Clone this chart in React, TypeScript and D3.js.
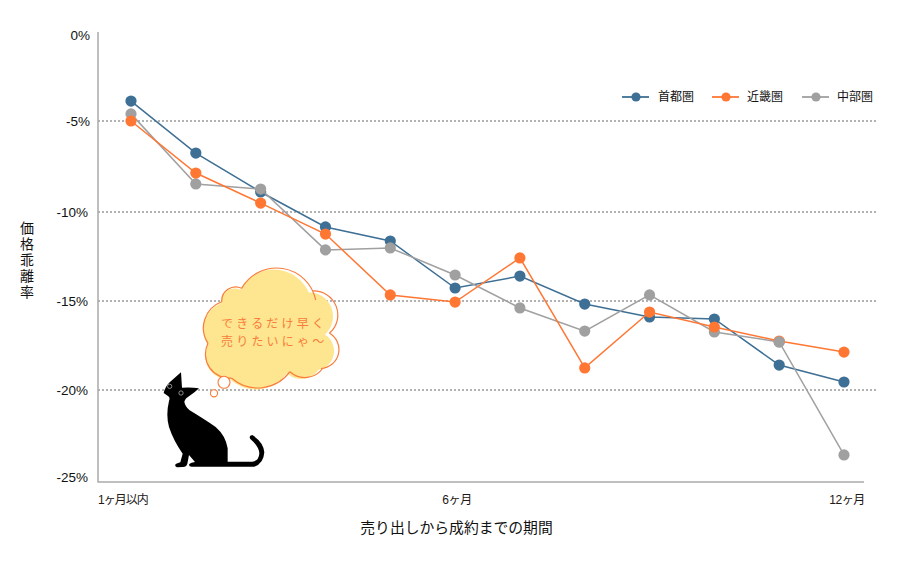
import React from "react";
import * as d3 from "d3";

const months = [1, 2, 3, 4, 5, 6, 7, 8, 9, 10, 11, 12];
const shutoken = [-3.88, -6.76, -8.9, -10.84, -11.63, -14.27, -13.6, -15.17, -15.9, -16.01, -18.6, -19.55];
const kinki = [-5, -7.86, -9.51, -11.24, -14.66, -15.06, -12.58, -18.76, -15.62, -16.46, -17.25, -17.87];
const chubu = [-4.6, -8.46, -8.74, -12.13, -12.02, -13.54, -15.39, -16.69, -14.66, -16.74, -17.3, -23.53];

const yTicks = [0, -5, -10, -15, -20, -25];
const gridTicks = [-5, -10, -15, -20];
const xTicks = [1, 6, 12];
const xLabels = ["1ヶ月以内", "6ヶ月", "12ヶ月"];
const yTitle = "価格乖離率";
const bubbleLines = ["できるだけ早く", "売りたいにゃ〜"];

// draw order matters: orange sits on top of the others
const series = [
  { name: "首都圏", values: shutoken, color: "#3e6f94", legendX: 636, textX: 658 },
  { name: "中部圏", values: chubu, color: "#a0a0a0", legendX: 816, textX: 837 },
  { name: "近畿圏", values: kinki, color: "#ff7733", legendX: 726, textX: 747 },
];

const FONT = "'Liberation Sans', 'Noto Sans CJK JP', sans-serif";
const JP = "'Noto Sans CJK JP', sans-serif";

const x = d3.scaleLinear().domain([1, 12]).range([131, 844]);
// the gridlines in the picture are not perfectly even
const y = d3.scaleLinear().domain(yTicks).range([32, 121, 212, 301, 390, 482]);

const line = d3
  .line<number>()
  .x((_, i) => x(months[i]))
  .y((d) => y(d));

// cloud lobes: start x, start y, radius, end x, end y
const lobes = [
  [241.7, 288.3, 40, 315.7, 300],
  [312.5, 291, 24, 329.3, 333.3],
  [329.3, 333, 19, 321, 368.5],
  [323, 368, 22, 290, 371.7],
  [290, 371.7, 40, 231.7, 378.3],
  [231.7, 378, 24, 208, 343.3],
  [208, 343.3, 28, 221.7, 301.7],
  [221.7, 301.7, 14, 241.7, 288.3],
];
const lobeArc = (l: number[]) => `A${l[2]} ${l[2]} 0 0 1 ${l[3]} ${l[4]}`;
const cloudFill =
  lobes.map((l, i) => `${i === 0 ? "M" : "L"}${l[0]} ${l[1]}${lobeArc(l)}`).join("") + "Z";
const cloudStroke = lobes.map((l) => `M${l[0]} ${l[1]}${lobeArc(l)}`).join("");

const catPath =
  "M78 22 L81 68 Q108 66 132 70 Q118 84 104 92 Q90 100 88 110 Q90 124 104 136 " +
  "Q150 164 182 186 Q212 212 218 250 L218 290 L292 290 Q312 288 313 265 Q312 244 286 222 " +
  "Q280 212 292 210 Q326 232 328 262 Q326 296 298 305 L110 305 Q100 304 103 297 Q108 292 120 291 " +
  "L102 270 L97 296 Q94 306 84 306 L66 307 Q58 304 62 297 Q70 294 76 292 L83 266 " +
  "Q56 228 42 186 Q32 150 42 108 Q46 98 40 94 L26 84 Q30 66 44 52 Z";

export default function App() {
  return (
    <svg
      width={900}
      height={570}
      style={{ position: "absolute", left: 0, top: 0, background: "#fff" }}
      fontFamily={FONT}
    >
      {gridTicks.map((t) => (
        <line key={t} x1={98} x2={878} y1={y(t)} y2={y(t)} stroke="#999" strokeWidth={1.3} strokeDasharray="2 2" />
      ))}
      <path d="M98 32V482H864" fill="none" stroke="#aaa" strokeWidth={1.5} />

      {yTicks.map((t) => (
        <text
          key={t}
          x={t <= -10 ? 88 : 90}
          y={y(t) + (t === 0 ? 3 : t === -25 ? -5 : 0)}
          dy="0.35em"
          textAnchor="end"
          fontSize={13.5}
          fill="#111"
        >
          {t}%
        </text>
      ))}
      {xTicks.map((t, i) => (
        <text
          key={t}
          x={i === 0 ? 98 : x(t) + (i === 2 ? 3 : 2)}
          y={500}
          dy="0.35em"
          textAnchor={i === 0 ? "start" : "middle"}
          fontSize={12}
          letterSpacing={i === 0 ? -1 : -0.4}
          fill="#231815"
        >
          {xLabels[i]}
        </text>
      ))}
      <text
        x={27}
        y={221}
        fontSize={14}
        letterSpacing={2}
        fontFamily={JP}
        fill="#111"
        style={{ writingMode: "vertical-rl" }}
      >
        {yTitle}
      </text>
      <text x={456.5} y={528} dy="0.35em" textAnchor="middle" fontSize={14.8} fontFamily={JP} fill="#111">
        売り出しから成約までの期間
      </text>

      {series.map((s) => (
        <g key={s.name}>
          <path d={line(s.values) ?? ""} fill="none" stroke={s.color} strokeWidth={1.5} />
          {s.values.map((v, i) => (
            <circle key={i} cx={x(months[i])} cy={y(v)} r={5.6} fill={s.color} />
          ))}
          <line x1={s.legendX - 14} x2={s.legendX + 13} y1={97} y2={97} stroke={s.color} strokeWidth={1.8} />
          <circle cx={s.legendX} cy={97} r={4.6} fill={s.color} />
          <text x={s.textX} y={97} dy="0.35em" fontSize={12} fontFamily={JP} fill="#111">
            {s.name}
          </text>
        </g>
      ))}
      {/* at 11 months the grey dot is the one in front */}
      <circle cx={x(months[10])} cy={y(chubu[10])} r={5.6} fill="#a0a0a0" />

      <path d={cloudFill} fill="#fde68f" transform="translate(7 1.5) scale(0.965 1)" />
      <path d={cloudStroke} fill="none" stroke="#f97c3c" strokeWidth={1.2} />
      {bubbleLines.map((t, i) => (
        <text
          key={t}
          x={221}
          y={324 + i * 18}
          dy="0.35em"
          fontSize={12}
          letterSpacing={3.2}
          fontFamily={JP}
          fill="#f97c3c"
        >
          {t}
        </text>
      ))}
      <circle cx={224} cy={382.3} r={6} fill="#fff" stroke="#f97c3c" strokeWidth={1.1} />
      <circle cx={214} cy={393.3} r={3.6} fill="#fff" stroke="#f97c3c" strokeWidth={1.1} />

      <g transform="translate(155 365) scale(0.3333)">
        <path d={catPath} fill="#000" />
        <circle cx={44} cy={64} r={6.5} fill="#000" stroke="#ccc" strokeWidth={2} />
        <circle cx={78} cy={84} r={6.5} fill="#000" stroke="#ccc" strokeWidth={2} />
      </g>
    </svg>
  );
}
